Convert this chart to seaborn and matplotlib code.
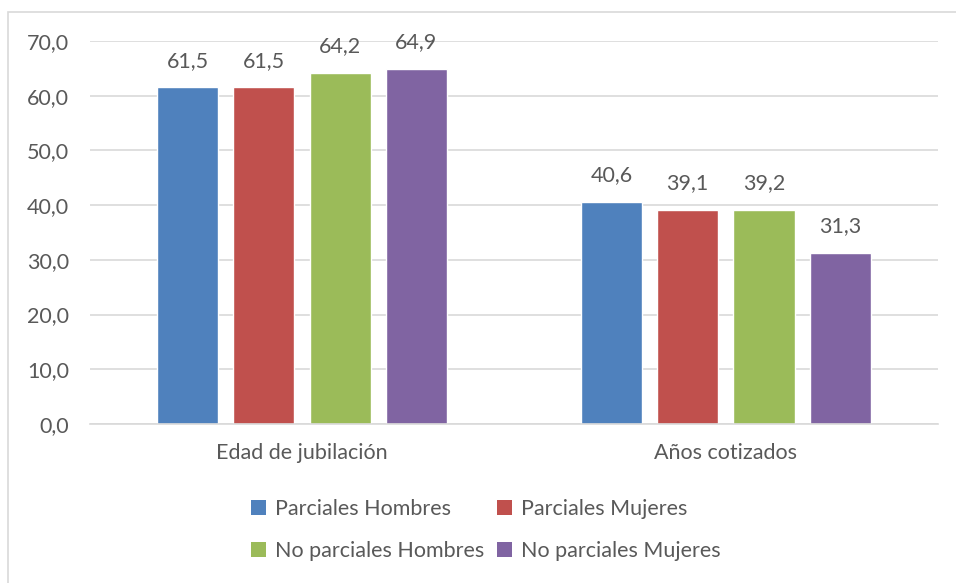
import pandas as pd
import seaborn as sns
from matplotlib import pyplot as plt
from matplotlib.patches import Rectangle, Patch

# data
categorias = ["Edad de jubilación", "Años cotizados"]
series = ["Parciales Hombres", "Parciales Mujeres",
          "No parciales Hombres", "No parciales Mujeres"]
parciales_hombres = [61.5, 40.6]
parciales_mujeres = [61.5, 39.1]
no_parciales_hombres = [64.2, 39.2]
no_parciales_mujeres = [64.9, 31.3]
colores = ["#4F81BD", "#C0504D", "#9BBB59", "#8064A2"]

valores = [parciales_hombres, parciales_mujeres, no_parciales_hombres, no_parciales_mujeres]
rows = []
for s, vals in zip(series, valores):
    for c, v in zip(categorias, vals):
        rows.append({"categoria": c, "serie": s, "valor": v})
df = pd.DataFrame(rows)

sns.set_style("white")
plt.rcParams["font.family"] = ["Lato", "DejaVu Sans"]
gris = "#595959"
fs = 15.5

fig = plt.figure(figsize=(9.56, 5.83), dpi=100)
ax = fig.add_axes([0.0941, 0.2727, 0.8869, 0.657])

sns.barplot(data=df, x="categoria", y="valor", hue="serie", hue_order=series,
            palette=colores, width=0.72, gap=0.2, ax=ax, legend=False,
            errorbar=None, saturation=1)

for cont in ax.containers:
    ax.bar_label(cont, labels=[f"{b.get_height():.1f}".replace(".", ",") for b in cont],
                 padding=12, fontsize=fs, color=gris)

ax.set_ylim(0, 70)
ax.set_xlim(-0.5, 1.5)
ax.set_yticks(range(0, 71, 10))
ax.set_yticklabels([f"{t},0" for t in range(0, 71, 10)])
ax.yaxis.grid(True, color="#D9D9D9", linewidth=1.2)
ax.set_axisbelow(True)
for side in ["top", "right", "left"]:
    ax.spines[side].set_visible(False)
ax.spines["bottom"].set_color("#D9D9D9")
ax.spines["bottom"].set_linewidth(1.2)
ax.tick_params(axis="both", length=0, labelsize=fs, labelcolor=gris)
ax.tick_params(axis="y", pad=15)
ax.tick_params(axis="x", pad=14)
ax.set_xlabel("")
ax.set_ylabel("")

# legend laid out row by row like the original
orden = [0, 2, 1, 3]
handles = [Patch(facecolor=colores[i], edgecolor="none") for i in orden]
etiquetas = [series[i] for i in orden]
fig.legend(handles, etiquetas, loc="center", bbox_to_anchor=(0.508, 0.091), ncol=2,
           frameon=False, fontsize=fs, labelcolor=gris, handlelength=0.7,
           handleheight=0.7, handletextpad=0.4, columnspacing=0.6,
           labelspacing=1.05)

fig.patches.append(Rectangle((8 / 956, -0.1), 1.2, 1 - 12 / 583 + 0.1,
                             transform=fig.transFigure, fill=False,
                             edgecolor="#D9D9D9", linewidth=1.2))

fig.savefig("out.png", dpi=100)
